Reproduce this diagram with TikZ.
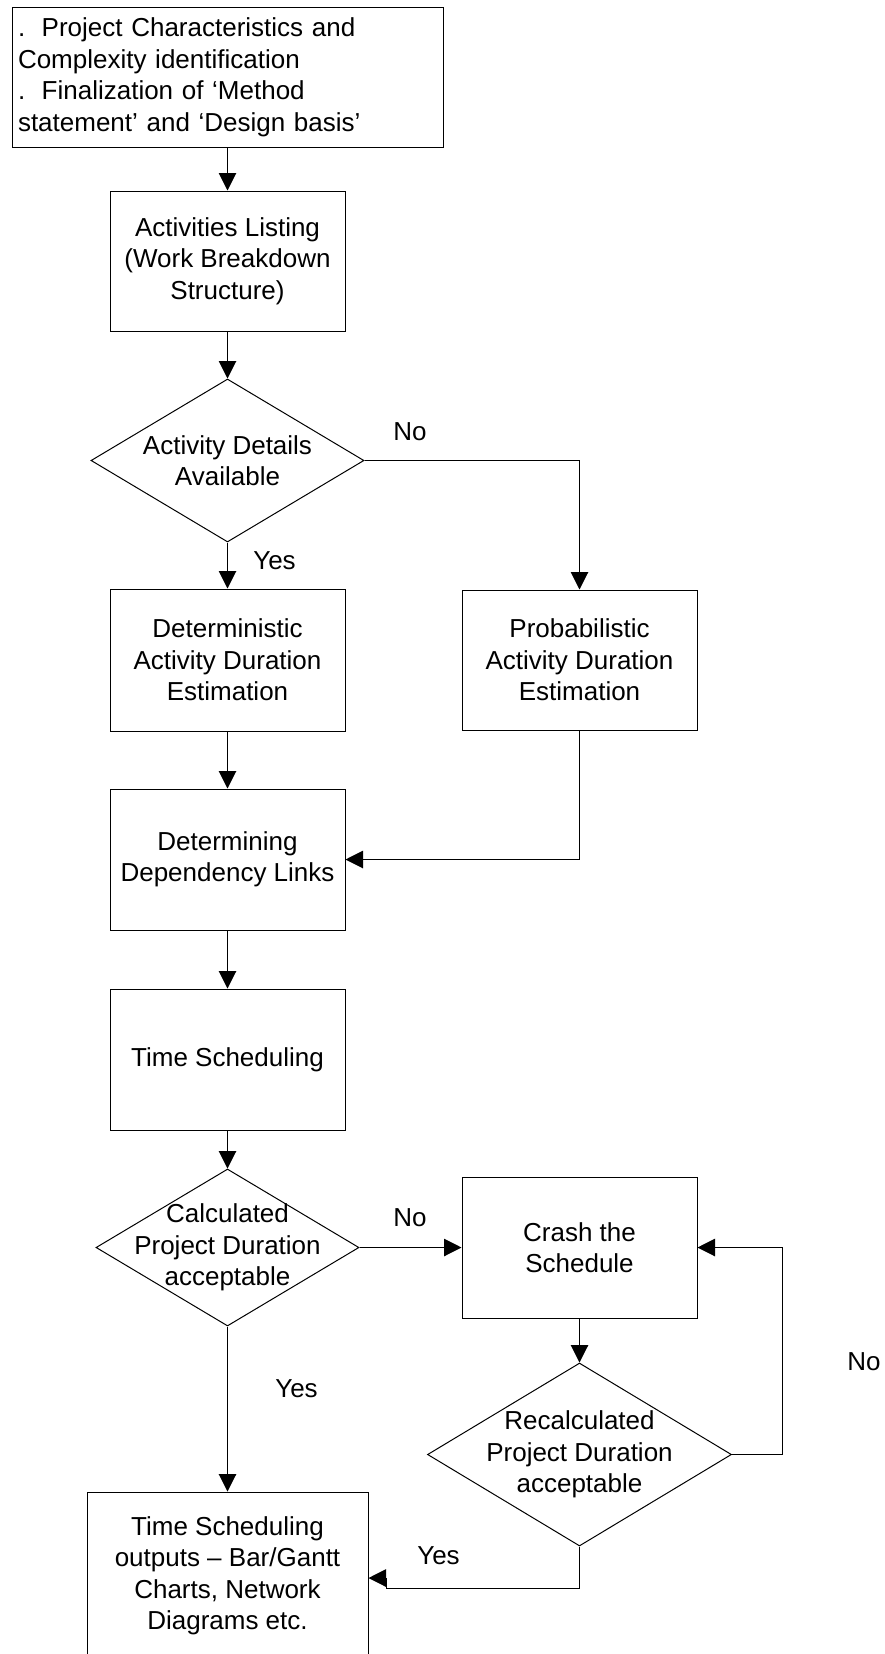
\documentclass[tikz,border=0pt]{standalone}
\usepackage{fontspec}
\setmainfont{Liberation Sans}
\usetikzlibrary{arrows.meta,shapes.geometric}

\begin{document}
\begin{tikzpicture}[x=1pt,y=-1pt,
  every node/.style={font=\fontsize{26}{31.5}\selectfont},
  box/.style={draw, line width=1pt, minimum width=235pt, minimum height=141pt, inner sep=0pt, align=center},
  dia/.style={draw, diamond, line width=1pt, inner sep=0pt},
  txt/.style={align=center, inner sep=0pt},
  arr/.style={-{Triangle[length=17.5pt,width=17.5pt]}, line width=1pt},
  lab/.style={inner sep=0pt}]
\useasboundingbox (0,0) rectangle (884,1654);
\clip (0,0) rectangle (884,1654);
\fill[white] (0,0) rectangle (884,1654);

\node[draw, line width=1pt, minimum width=431pt, minimum height=139pt, inner sep=0pt,
      text width=419pt, align=left] (top) at (227.5,77.5)
  {.\hspace{16.5pt}Project Characteristics and\\Complexity identification\\.\hspace{16.5pt}Finalization of ‘Method\\statement’ and ‘Design basis’};

\node[box, minimum height=140pt] (act) at (227.5,261) {Activities Listing\\(Work Breakdown\\Structure)};
\node[dia, minimum width=273pt, minimum height=163pt,
      label={[txt]center:{Activity Details\\Available}}] (d1) at (227.5,460.5) {};
\node[box, minimum height=142pt] (det) at (227.5,660) {Deterministic\\Activity Duration\\Estimation};
\node[box, minimum height=140pt] (prob) at (579.5,660) {Probabilistic\\Activity Duration\\Estimation};
\node[box] (dep) at (227.5,859.5) {Determining\\Dependency Links};
\node[box] (ts) at (227.5,1059.5) {Time Scheduling};
\node[dia, minimum width=263pt, minimum height=157pt,
      label={[txt]center:{Calculated\\Project Duration\\acceptable}}] (calc) at (227.5,1247.5) {};
\node[box] (crash) at (579.5,1247.5) {Crash the\\Schedule};
\node[dia, minimum width=304pt, minimum height=183pt,
      label={[txt]center:{Recalculated\\Project Duration\\acceptable}}] (recalc) at (579.5,1454.5) {};
\node[box, minimum width=281pt, minimum height=168pt] (out) at (227.5,1576)
  {Time Scheduling\\outputs – Bar/Gantt\\Charts, Network\\Diagrams etc.};

\coordinate (loopR) at (782,1454.5);
\coordinate (yb1) at (579.5,1588);
\coordinate (yb2) at (386,1588);
\coordinate (yb3) at (386,1578);

\draw[arr] (top.south) -- (act.north);
\draw[arr] (act.south) -- (d1.north);
\draw[arr] (d1.south) -- (det.north);
\draw[arr] (d1.east) -| (prob.north);
\draw[arr] (det.south) -- (dep.north);
\draw[arr] (prob.south) |- (dep.east);
\draw[arr] (dep.south) -- (ts.north);
\draw[arr] (ts.south) -- (calc.north);
\draw[arr] (calc.east) -- (crash.west);
\draw[arr] (calc.south) -- (out.north);
\draw[arr] (crash.south) -- (recalc.north);
\draw[arr] (recalc.east) -- (loopR) |- (crash.east);
\draw[arr] (recalc.south) -- (yb1) -- (yb2) -- (yb3) -- (yb3 -| out.east);

\node[lab] (no1) at (410,432) {No};
\node[lab] (yes1) at (274.5,561) {Yes};
\node[lab] (no2) at (410,1218) {No};
\node[lab] (yes2) at (296.5,1389) {Yes};
\node[lab] (no3) at (864,1362) {No};
\node[lab] (yes3) at (438.5,1556) {Yes};
\end{tikzpicture}
\end{document}
